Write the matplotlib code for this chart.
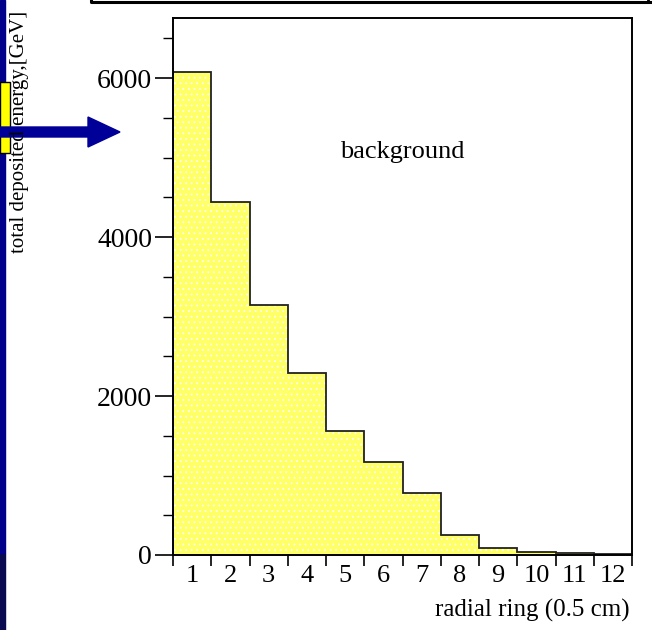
import numpy as np
import matplotlib.pyplot as plt
from matplotlib.patches import Rectangle, FancyArrow
from matplotlib.lines import Line2D
from matplotlib.ticker import MultipleLocator, FixedLocator

# radial ring bins (0.5 cm each) and deposited energy [GeV]
rings = np.arange(1, 13)
energy = [6080, 4440, 3145, 2290, 1560, 1170, 780, 250, 92, 42, 22, 12]
ring_labels = [str(r) for r in rings]

plt.rcParams['font.family'] = ['Liberation Serif', 'DejaVu Serif']
plt.rcParams['hatch.color'] = 'white'
plt.rcParams['hatch.linewidth'] = 0.6

fig = plt.figure(figsize=(6.52, 6.30), dpi=100)
ax = fig.add_axes([173 / 652, 1 - 555 / 630, 459 / 652, 537 / 630])

edges = np.append(rings - 0.5, rings[-1] + 0.5)
ax.bar(rings, energy, width=1.0, color='#ffff66', hatch='...', edgecolor='white', linewidth=0)
ax.stairs(energy, edges, color='#222222', linewidth=1.3)

ax.set_xlim(0.5, 12.5)
ax.set_ylim(0, 6755)

# ticks at bin edges, labels at bin centres
ax.xaxis.set_major_locator(FixedLocator(edges))
ax.xaxis.set_minor_locator(FixedLocator(rings))
ax.set_xticklabels([''] * len(edges))
ax.set_xticklabels(ring_labels, minor=True)
ax.tick_params(axis='x', which='major', direction='out', length=8, width=1.2)
ax.tick_params(axis='x', which='minor', length=0, pad=7, labelsize=19)

ax.yaxis.set_major_locator(MultipleLocator(2000))
ax.yaxis.set_minor_locator(MultipleLocator(500))
ax.tick_params(axis='y', which='major', direction='out', length=13, width=1.2, labelsize=20, pad=2)
ax.tick_params(axis='y', which='minor', direction='out', length=7, width=1.0)

for s in ax.spines.values():
    s.set_linewidth(1.4)

ax.text(0.5, 0.75, 'background', transform=ax.transAxes, fontsize=19, ha='center', va='center')
fig.text(630 / 652, 1 - 610 / 630, 'radial ring (0.5 cm)', fontsize=18, ha='right', va='center')
fig.text(20 / 652, 1 - 132 / 630, 'total deposited energy,[GeV]', fontsize=15,
         rotation=90, ha='center', va='center')

# slide decorations around the plot
fig.patches.append(Rectangle((0, 0), 5 / 652, 1 - 553 / 630, transform=fig.transFigure,
                             color='#0a0a50', zorder=0))
fig.patches.append(Rectangle((0, 1 - 553 / 630), 5 / 652, 553 / 630, transform=fig.transFigure,
                             color='#00008a', zorder=0))
fig.patches.append(Rectangle((0, 1 - 153 / 630), 10 / 652, 71 / 630, transform=fig.transFigure,
                             facecolor='#ffff00', edgecolor='black', linewidth=1, zorder=1))
fig.patches.append(FancyArrow(0, 1 - 132 / 630, 120 / 652, 0, width=10 / 630,
                              head_width=30 / 630, head_length=32 / 652,
                              length_includes_head=True, transform=fig.transFigure,
                              color='#000099', zorder=2))
fig.lines.append(Line2D([91 / 652, 91 / 652, 1], [1, 1 - 2 / 630, 1 - 2 / 630],
                        transform=fig.transFigure, color='black', linewidth=2.2))
fig.lines.append(Line2D([648 / 652, 648 / 652], [1, 1 - 2 / 630],
                        transform=fig.transFigure, color='black', linewidth=2))

fig.savefig('out.png', dpi=100)
